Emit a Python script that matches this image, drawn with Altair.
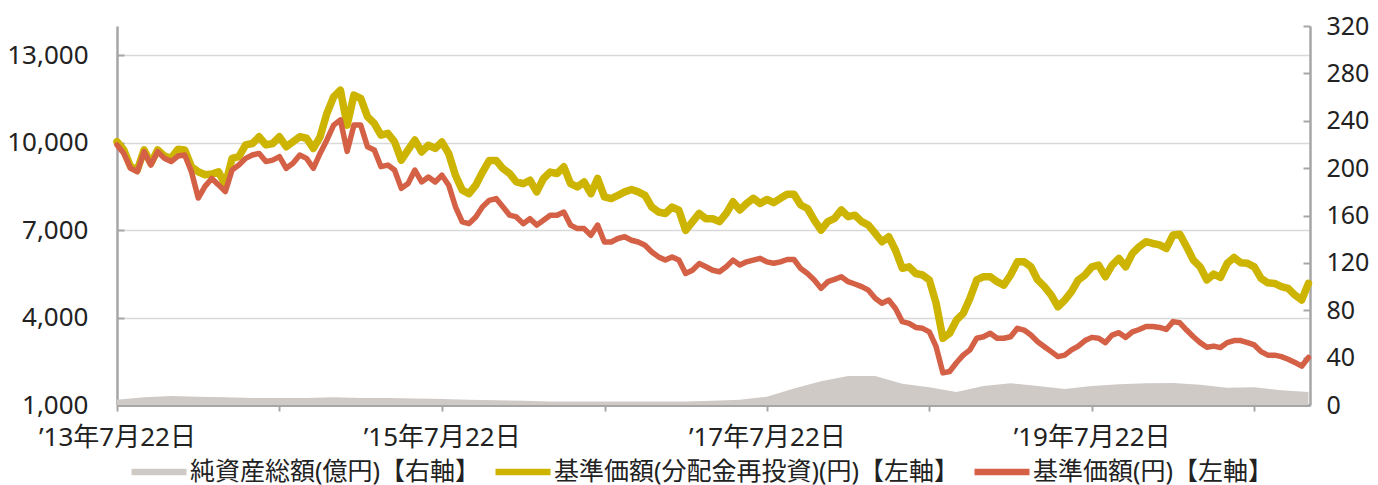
import altair as alt
import pandas as pd

FONT = "Noto Sans, Noto Sans CJK JP"

S_AREA = "純資産総額(億円)【右軸】"
S_RE = "基準価額(分配金再投資)(円)【左軸】"
S_NAV = "基準価額(円)【左軸】"

START = pd.Timestamp("2013-07-22")
STEP_DAYS = 365.25 / 24  # semi-monthly sampling

# 基準価額(分配金再投資)(円)
nav_reinvest = [
    10030, 9750, 9175, 9060, 9750, 9290, 9750, 9540, 9460, 9770,
    9750, 9175, 9000, 8900, 8920, 9000, 8550, 9460, 9520, 9920,
    9970, 10200, 9920, 9970, 10200, 9860, 10030, 10200, 10150, 9800,
    10200, 11000, 11570, 11800, 10600, 11630, 11520, 10890, 10660, 10260,
    10320, 10030, 9400, 9750, 10090, 9680, 9910, 9800, 10020, 9620,
    8880, 8370, 8250, 8540, 8990, 9390, 9390, 9110, 8940, 8650,
    8590, 8710, 8310, 8770, 8990, 8940, 9170, 8590, 8480, 8650,
    8250, 8770, 8140, 8080, 8190, 8310, 8390, 8310, 8190, 7790,
    7620, 7570, 7790, 7680, 6990, 7280, 7570, 7390, 7390, 7290,
    7570, 7970, 7690, 7910, 8090, 7910, 8050, 7940, 8090, 8230,
    8230, 7860, 7740, 7340, 7000, 7290, 7400, 7690, 7460, 7510,
    7290, 7170, 6890, 6600, 6770, 6310, 5690, 5740, 5510, 5460,
    5290, 4490, 3290, 3460, 3910, 4140, 4660, 5290, 5400, 5400,
    5230, 5110, 5460, 5910, 5910, 5740, 5290, 5060, 4770, 4370,
    4600, 4890, 5290, 5460, 5740, 5800, 5400, 5800, 6030, 5740,
    6200, 6430, 6600, 6540, 6490, 6370, 6830, 6860, 6430, 5970,
    5740, 5290, 5490, 5380, 5860, 6060, 5880, 5860, 5740, 5340,
    5190, 5170, 5060, 5000, 4770, 4600, 5170,
]

# 基準価額(円)
nav = [
    9920, 9630, 9120, 9000, 9690, 9230, 9690, 9460, 9350, 9540,
    9575, 9000, 8100, 8500, 8770, 8550, 8320, 9060, 9230, 9460,
    9575, 9630, 9350, 9400, 9520, 9120, 9290, 9575, 9460, 9120,
    9630, 10090, 10600, 10780, 9700, 10600, 10600, 9860, 9750, 9175,
    9230, 9060, 8430, 8600, 9060, 8650, 8820, 8650, 8880, 8540,
    7800, 7280, 7220, 7450, 7800, 8020, 8080, 7800, 7510, 7450,
    7220, 7390, 7170, 7340, 7510, 7510, 7620, 7170, 7050, 7050,
    6820, 7170, 6590, 6590, 6710, 6770, 6650, 6590, 6480, 6250,
    6080, 5970, 6080, 5970, 5510, 5620, 5850, 5740, 5620, 5570,
    5740, 5970, 5800, 5910, 5970, 6030, 5910, 5860, 5910, 5990,
    5990, 5680, 5510, 5290, 5000, 5230, 5310, 5400, 5230, 5150,
    5060, 4940, 4660, 4490, 4600, 4310, 3860, 3800, 3660, 3630,
    3510, 3000, 2100, 2150, 2450, 2710, 2890, 3290, 3340, 3460,
    3290, 3290, 3340, 3630, 3570, 3400, 3170, 3000, 2830, 2660,
    2710, 2890, 3020, 3210, 3320, 3290, 3140, 3400, 3480, 3320,
    3510, 3590, 3690, 3690, 3660, 3590, 3860, 3820, 3570, 3340,
    3140, 2980, 3020, 2970, 3140, 3210, 3210, 3140, 3060, 2830,
    2710, 2710, 2660, 2570, 2460, 2330, 2630,
]

# 純資産総額(億円), every two months
net_assets = [
    4.5, 6.5, 7.5, 7, 6.5, 6, 6, 6, 6.5, 6,
    6, 5.5, 5, 4.5, 4, 3.5, 3, 3, 3, 3,
    3, 3, 3.5, 4.5, 7, 14, 20, 24.5, 24.5, 18,
    15, 11, 16, 18.3, 16, 13.5, 16, 17.5, 18.3, 18.5,
    17, 14.5, 15, 12.5, 11,
]

dates_line = [START + pd.Timedelta(days=k * STEP_DAYS) for k in range(len(nav))]
dates_area = [START + pd.Timedelta(days=4 * k * STEP_DAYS) for k in range(len(net_assets))]

df_re = pd.DataFrame({"date": dates_line, "value": nav_reinvest, "series": S_RE})
df_nav = pd.DataFrame({"date": dates_line, "value": nav, "series": S_NAV})
df_area = pd.DataFrame({"date": dates_area, "value": net_assets, "series": S_AREA})

COL_AREA = "#D0CAC7"
COL_RE = "#CCB400"
COL_NAV = "#D46046"
AXIS_COL = "#A6A6A6"
TXT = "#222222"

color_scale = alt.Scale(domain=[S_AREA, S_RE, S_NAV], range=[COL_AREA, COL_RE, COL_NAV])

legend = alt.Legend(
    orient="none", legendX=11, legendY=415, direction="horizontal", title=None,
    symbolType="stroke", symbolSize=3025, symbolStrokeWidth=6.5, symbolOpacity=1,
    labelFontSize=25, labelFont=FONT, labelColor=TXT, labelLimit=700,
    labelOffset=0, columnPadding=1, padding=0,
)

label_expr = ("year(datum.value) % 2 == 1 ? '’' + (year(datum.value) - 2000) + '年' + "
              "(month(datum.value) + 1) + '月' + date(datum.value) + '日' : ''")

x_enc = alt.X(
    "date:T",
    scale=alt.Scale(domain=[alt.DateTime(year=2013, month=7, date=22),
                            alt.DateTime(year=2020, month=11, date=24)]),
    axis=alt.Axis(
        values=[alt.DateTime(year=y, month=7, date=22) for y in range(2013, 2021)],
        labelExpr=label_expr, title=None, grid=False,
        domainColor=AXIS_COL, domainWidth=3, tickColor=AXIS_COL, tickWidth=2, tickSize=6,
        labelFontSize=26, labelFont=FONT, labelColor=TXT, labelPadding=13,
        labelFlush=False, labelOverlap=False, labelBound=False,
    ),
)

left_axis = alt.Axis(
    orient="left", values=[1000, 4000, 7000, 10000, 13000], format=",d", title=None,
    grid=True, gridColor="#D9D9D9", gridWidth=1.5,
    domainColor=AXIS_COL, domainWidth=2.5, tickColor=AXIS_COL, tickWidth=2,
    tickSize={"expr": "-7"},
    labelFontSize=26, labelFont=FONT, labelColor=TXT, labelPadding=36,
)
right_axis = alt.Axis(
    orient="right", values=list(range(0, 321, 40)), title=None, grid=False,
    domainColor=AXIS_COL, domainWidth=2.5, tickColor=AXIS_COL, tickWidth=2,
    tickSize={"expr": "-7"},
    labelFontSize=25, labelFont=FONT, labelColor=TXT, labelPadding=23,
)

left_scale = alt.Scale(domain=[1000, 14000], nice=False, zero=False)

area = alt.Chart(df_area).mark_area(color=COL_AREA, interpolate="linear").encode(
    x=x_enc,
    y=alt.Y("value:Q", scale=alt.Scale(domain=[0, 320], nice=False), axis=right_axis),
)

yellow = alt.Chart(df_re).mark_line(strokeWidth=7.5, strokeCap="round", strokeJoin="round").encode(
    x=x_enc,
    y=alt.Y("value:Q", scale=left_scale, axis=left_axis),
    color=alt.Color("series:N", scale=color_scale, legend=legend),
)
orange = alt.Chart(df_nav).mark_line(strokeWidth=5.5, strokeCap="round", strokeJoin="round").encode(
    x=x_enc,
    y=alt.Y("value:Q", scale=left_scale, axis=left_axis),
    color=alt.Color("series:N", scale=color_scale, legend=legend),
)

lines = alt.layer(yellow, orange)

chart = alt.layer(area, lines).resolve_scale(y="independent").properties(
    width=1193, height=379,
    padding={"left": 109, "top": 18, "right": 60, "bottom": 80},
    autosize=alt.AutoSizeParams(type="none"),
).configure(font=FONT).configure_view(stroke=None)

chart.save("out.html", embed_options={"renderer": "svg", "actions": False})
